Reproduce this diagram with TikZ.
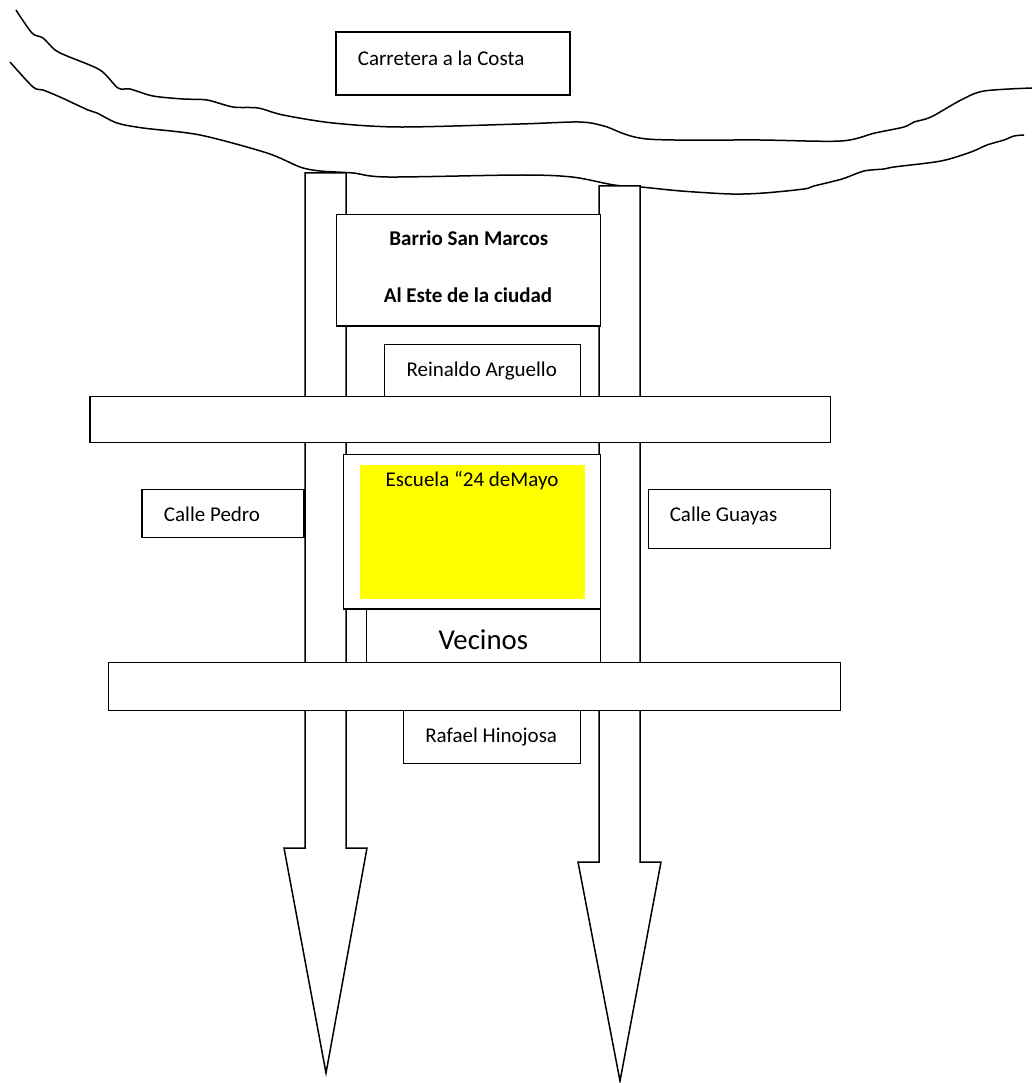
\documentclass[tikz,border=0pt]{standalone}
\usepackage{fontspec}
\setmainfont{Carlito}
\usepackage{tikz}
\definecolor{amarillo}{RGB}{255,255,0}

\begin{document}
\begin{tikzpicture}[x=1pt,y=-1pt,
        via/.style={draw,fill=white,line width=1.5pt},
        rio/.style={line width=1.5pt},
        texto/.style={font=\fontsize{21}{25}\selectfont,inner sep=0pt,text height=13.5pt,text depth=0pt}]
            \useasboundingbox (0,0) rectangle (1034,1083);
            % rio
            \draw[rio] plot[smooth] coordinates {(16,10) (32,33) (43,38) (55,50) (67,56) (100,70) (118,88) (130,89) (153,96) (183,99) (207,100) (233,107) (258,108) (283,115) (333,123) (400,127) (520,124) (579,122) (604,126) (647,139) (760,140) (841,141) (875,133) (904,127) (914,122) (931,117) (961,100) (984,91) (1032,88)};
            \draw[rio] plot[smooth] coordinates {(10,62) (33,87) (43,90) (60,97) (88,110) (97,113) (117,123) (143,128) (200,135) (267,153) (300,167) (320,171) (353,173) (388,177) (520,175) (572,177) (614,185) (641,187) (681,191) (731,194) (764,193) (804,189) (814,186) (842,179) (864,171) (884,169) (894,167) (941,161) (971,152) (987,145) (1004,140) (1014,136) (1024,135)};
            \draw[via] (336,32) rectangle (570,95);
            \node[texto,anchor=west] (carretera) at (357.7,58.3) {Carretera a la Costa};
            % calles verticales
            \draw[via] (305,173) -- (346,173) -- (346,848) -- (367,848) -- (326,1073) -- (284,848) -- (305,848) -- cycle;
            \draw[via] (599,186) -- (640,186) -- (640,862) -- (661,862) -- (620,1081) -- (578,862) -- (599,862) -- cycle;
            % calles horizontales
            \draw[via] (90,396.5) rectangle (830.5,442.3);
            \draw[via] (108.3,662.7) rectangle (840.7,710.7);
            % barrio
            \draw[via] (336.3,214.3) rectangle (600.3,326);
            \node[texto,font=\fontsize{21}{25}\selectfont\bfseries] (barrio) at (468.8,239) {Barrio San Marcos};
            \node[texto,font=\fontsize{21}{25}\selectfont\bfseries] (este) at (468,296) {Al Este de la ciudad};
            \draw[via] (384.7,344.3) rectangle (580.3,396.5);
            \node[texto] (reinaldo) at (481.7,369.3) {Reinaldo Arguello};
            % escuela
            \draw[via] (343.3,454.7) rectangle (600.3,609);
            \fill[amarillo] (360,465) rectangle (585,599);
            \node[texto] (escuela) at (472,480) {Escuela “24 deMayo};
            \draw[via] (366.7,609) rectangle (600.3,662.7);
            \node[texto,font=\fontsize{28.8}{34}\selectfont,text height=18.5pt] (vecinos) at (483.3,640) {Vecinos};
            \draw[via] (142,489.3) rectangle (304,537.7);
            \node[texto] (pedro) at (212,515) {Calle Pedro};
            \draw[via] (648.3,489.3) rectangle (830.7,548.3);
            \node[texto] (guayas) at (723.5,515) {Calle Guayas};
            \draw[via] (403.3,710.7) rectangle (580.3,763.3);
            \node[texto] (rafael) at (491.2,735.7) {Rafael Hinojosa};
        \end{tikzpicture}
\end{document}
